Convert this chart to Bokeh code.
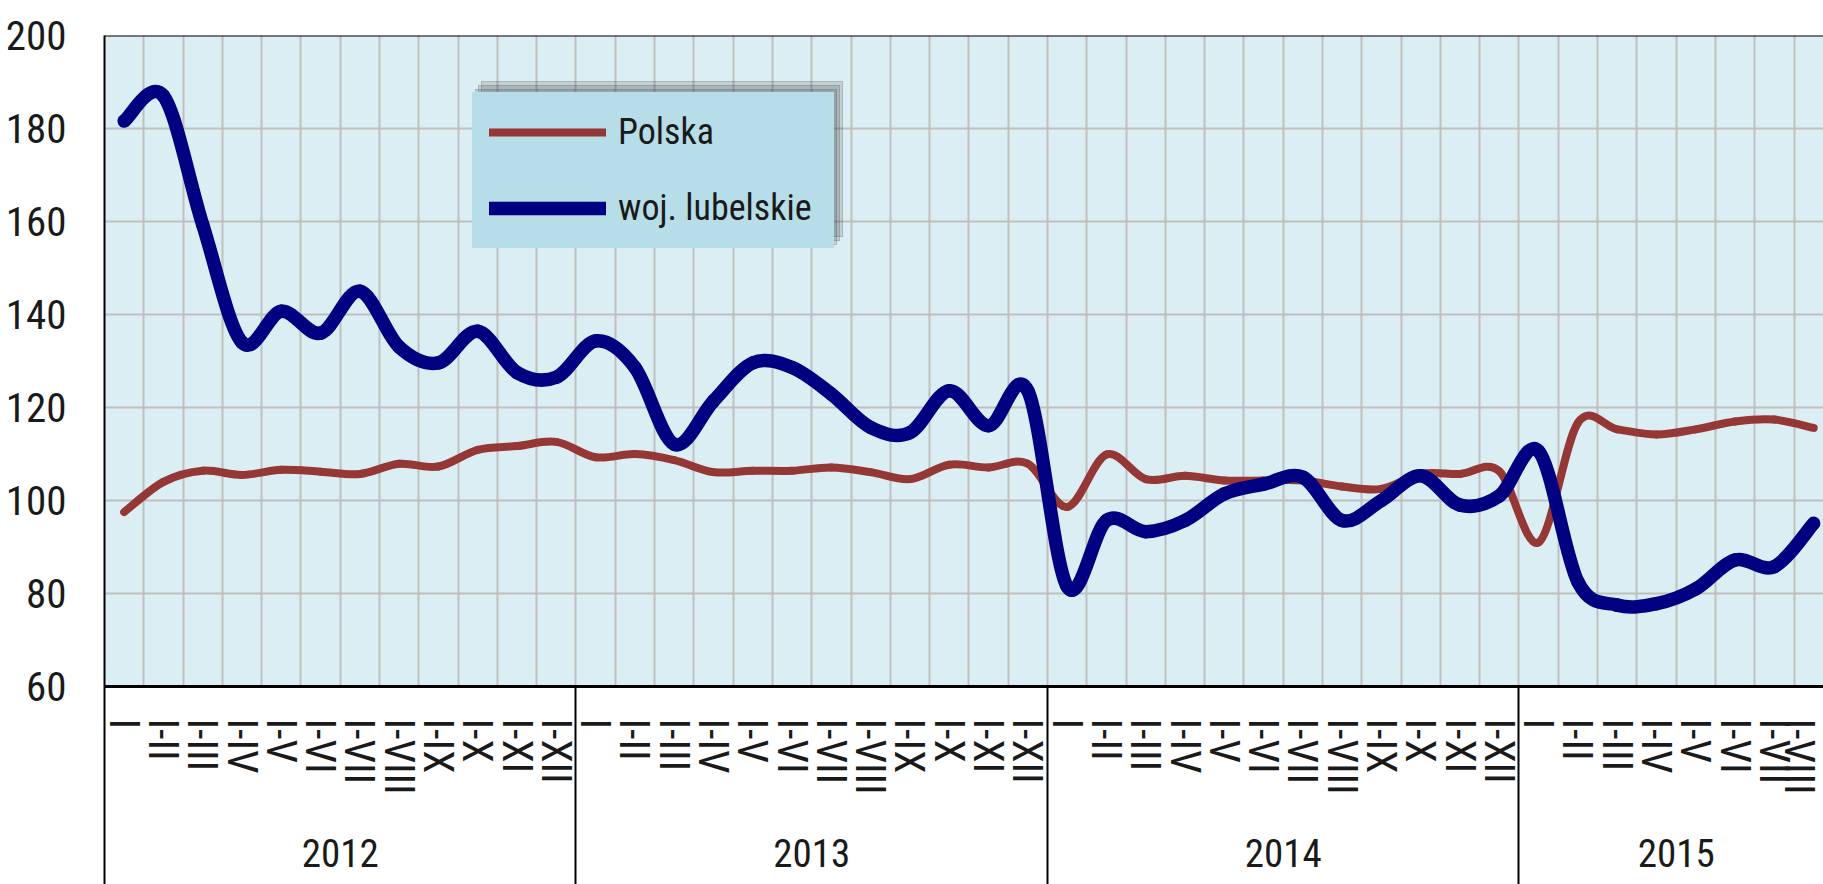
import numpy as np
from bokeh.plotting import figure
from bokeh.models import (Range1d, LinearAxis, FixedTicker, Grid, Legend,
                          LegendItem, Span)
from bokeh.embed import file_html
from bokeh.resources import INLINE

# ---------------- data ----------------
years = ["2012", "2013", "2014", "2015"]
months_per_year = [12, 12, 12, 8]
month_labels = ["I", "I-II", "I-III", "I-IV", "I-V", "I-VI", "I-VII",
                "I-VIII", "I-IX", "I-X", "I-XI", "I-XII"]
y_ticks = [60, 80, 100, 120, 140, 160, 180, 200]

polska = [97.5, 104.0, 106.4, 105.5, 106.6, 106.2, 105.7, 107.9, 107.3, 110.9, 111.7, 112.6,
          109.3, 110.0, 108.7, 106.1, 106.4, 106.4, 107.1, 106.1, 104.6, 107.7, 107.1, 107.9,
          98.6, 109.9, 104.6, 105.3, 104.3, 104.3, 104.3, 103.0, 102.5, 105.7, 105.7, 106.3,
          91.0, 116.7, 115.3, 114.2, 115.3, 117.0, 117.4, 115.6]
lubelskie = [181.6, 187.0, 159.3, 134.0, 140.7, 136.0, 145.0, 133.0, 129.6, 136.4, 127.5, 126.5,
             134.3, 128.6, 112.1, 121.4, 129.6, 128.6, 122.9, 115.7, 114.6, 123.6, 116.1, 123.6,
             81.5, 95.7, 93.3, 95.7, 101.4, 103.5, 105.0, 95.7, 100.0, 105.3, 99.0, 101.0,
             110.6, 82.5, 77.5, 77.8, 81.0, 87.2, 85.8, 95.1]

series_names = ["Polska", "woj. lubelskie"]

# ---------------- derived positions ----------------
n = len(polska)
xs = [i + 0.5 for i in range(n)]
cat_labels = [month_labels[m] for c in months_per_year for m in range(c)]
bounds = [0] + list(np.cumsum(months_per_year))
year_centers = [(bounds[i] + bounds[i + 1]) / 2 for i in range(len(years))]

FONT = "Roboto Condensed"
RED = "#953735"
BLUE = "#000080"
TXT = "#1a1a1a"
LEG_BG = "#B7DDE8"

X_END = 43.75  # picture is cut at the right edge

p = figure(width=1823, height=884, output_backend="svg", toolbar_location=None,
           x_range=Range1d(0, X_END), y_range=Range1d(y_ticks[0], y_ticks[-1]),
           x_axis_type=None, y_axis_type=None,
           min_border_left=104, min_border_top=35, min_border_right=0,
           min_border_bottom=198)
p.background_fill_color = "#DBEEF4"
p.border_fill_color = "white"
p.outline_line_color = None

# grids
xgrid = Grid(dimension=0, ticker=FixedTicker(ticks=list(range(1, n))),
             grid_line_color="#BFBFBF", grid_line_width=2)
ygrid = Grid(dimension=1, ticker=FixedTicker(ticks=y_ticks[1:-1]),
             grid_line_color="#BFBFBF", grid_line_width=2)
p.add_layout(xgrid, "center")
p.add_layout(ygrid, "center")

# y axis
yaxis = LinearAxis(ticker=FixedTicker(ticks=y_ticks))
yaxis.major_tick_line_color = None
yaxis.minor_tick_line_color = None
yaxis.axis_line_color = "black"
yaxis.axis_line_width = 2
yaxis.major_label_standoff = 32
yaxis.major_label_text_font = FONT
yaxis.major_label_text_font_size = "41px"
yaxis.major_label_text_color = TXT
p.add_layout(yaxis, "left")

# month axis (minor ticks used as long year separators)
SEP = 200
maxis = LinearAxis(ticker=FixedTicker(ticks=xs, minor_ticks=bounds[:-1]))
maxis.major_label_overrides = {x: lab for x, lab in zip(xs, cat_labels)}
maxis.major_label_orientation = "vertical"
maxis.major_tick_line_color = None
maxis.major_tick_out = 0
maxis.major_tick_in = 0
maxis.minor_tick_in = 0
maxis.minor_tick_out = SEP
maxis.minor_tick_line_color = "black"
maxis.minor_tick_line_width = 2
maxis.axis_line_color = "black"
maxis.axis_line_width = 3
maxis.major_label_standoff = 32 - SEP
maxis.major_label_text_font = FONT
maxis.major_label_text_font_size = "42px"
maxis.major_label_text_color = TXT
p.add_layout(maxis, "below")

# year axis
yraxis = LinearAxis(ticker=FixedTicker(ticks=year_centers, minor_ticks=[]))
yraxis.major_label_overrides = {c: y for c, y in zip(year_centers, years)}
yraxis.major_tick_line_color = None
yraxis.minor_tick_line_color = None
yraxis.major_tick_out = 0
yraxis.major_tick_in = 0
yraxis.minor_tick_out = 0
yraxis.axis_line_color = None
yraxis.major_label_standoff = 41
yraxis.major_label_text_font = FONT
yraxis.major_label_text_font_size = "39px"
yraxis.major_label_text_color = TXT
p.add_layout(yraxis, "below")

# top border
p.add_layout(Span(location=y_ticks[-1], dimension="width", line_color="black",
                  line_width=2))


# smoothed lines (cubic Bezier segments through the data points)
def bezier_params(xv, yv):
    xv = np.asarray(xv, dtype=float)
    yv = np.asarray(yv, dtype=float)
    k = len(xv)
    qx = np.concatenate([[xv[0]], xv, [xv[-1]]])
    qy = np.concatenate([[yv[0]], yv, [yv[-1]]])
    return dict(
        x0=xv[:-1], y0=yv[:-1], x1=xv[1:], y1=yv[1:],
        cx0=qx[1:k] + (qx[2:k + 1] - qx[0:k - 1]) / 6.0,
        cy0=qy[1:k] + (qy[2:k + 1] - qy[0:k - 1]) / 6.0,
        cx1=qx[2:k + 1] - (qx[3:k + 2] - qx[1:k]) / 6.0,
        cy1=qy[2:k + 1] - (qy[3:k + 2] - qy[1:k]) / 6.0,
    )


r_red = p.bezier(**bezier_params(xs, polska), line_color=RED, line_width=8,
                 line_cap="round")
r_blue = p.bezier(**bezier_params(xs, lubelskie), line_color=BLUE, line_width=13.5,
                  line_cap="round")

# legend shadow (transparent dummy glyphs, empty labels)
d1 = p.line([], [], line_alpha=0)
d2 = p.line([], [], line_alpha=0)


def make_legend(items, loc, bg, alpha):
    lg = Legend(items=items, location=loc, orientation="vertical")
    lg.background_fill_color = bg
    lg.background_fill_alpha = alpha
    lg.border_line_color = bg
    lg.border_line_alpha = alpha
    lg.border_line_width = 1
    lg.padding = 16
    lg.margin = 0
    lg.spacing = 30
    lg.glyph_width = 117
    lg.glyph_height = 46
    lg.label_height = 46
    lg.label_width = 199
    lg.label_standoff = 12
    lg.label_text_font = FONT
    lg.label_text_font_size = "36px"
    lg.label_text_color = TXT
    lg.click_policy = "none"
    return lg


LEG_X, LEG_Y = 368, 438
for dx, dy in [(9, 11), (6, 7), (3, 3)]:
    sh = make_legend([LegendItem(label="", renderers=[d1]),
                      LegendItem(label="", renderers=[d2])],
                     (LEG_X + dx, LEG_Y + dy), "#3c3c3c", 0.17)
    p.add_layout(sh, "center")
legend = make_legend([LegendItem(label=series_names[0], renderers=[r_red]),
                      LegendItem(label=series_names[1], renderers=[r_blue])],
                     (LEG_X, LEG_Y), LEG_BG, 1.0)
p.add_layout(legend, "center")

open("out.html", "w").write(file_html(p, INLINE))
